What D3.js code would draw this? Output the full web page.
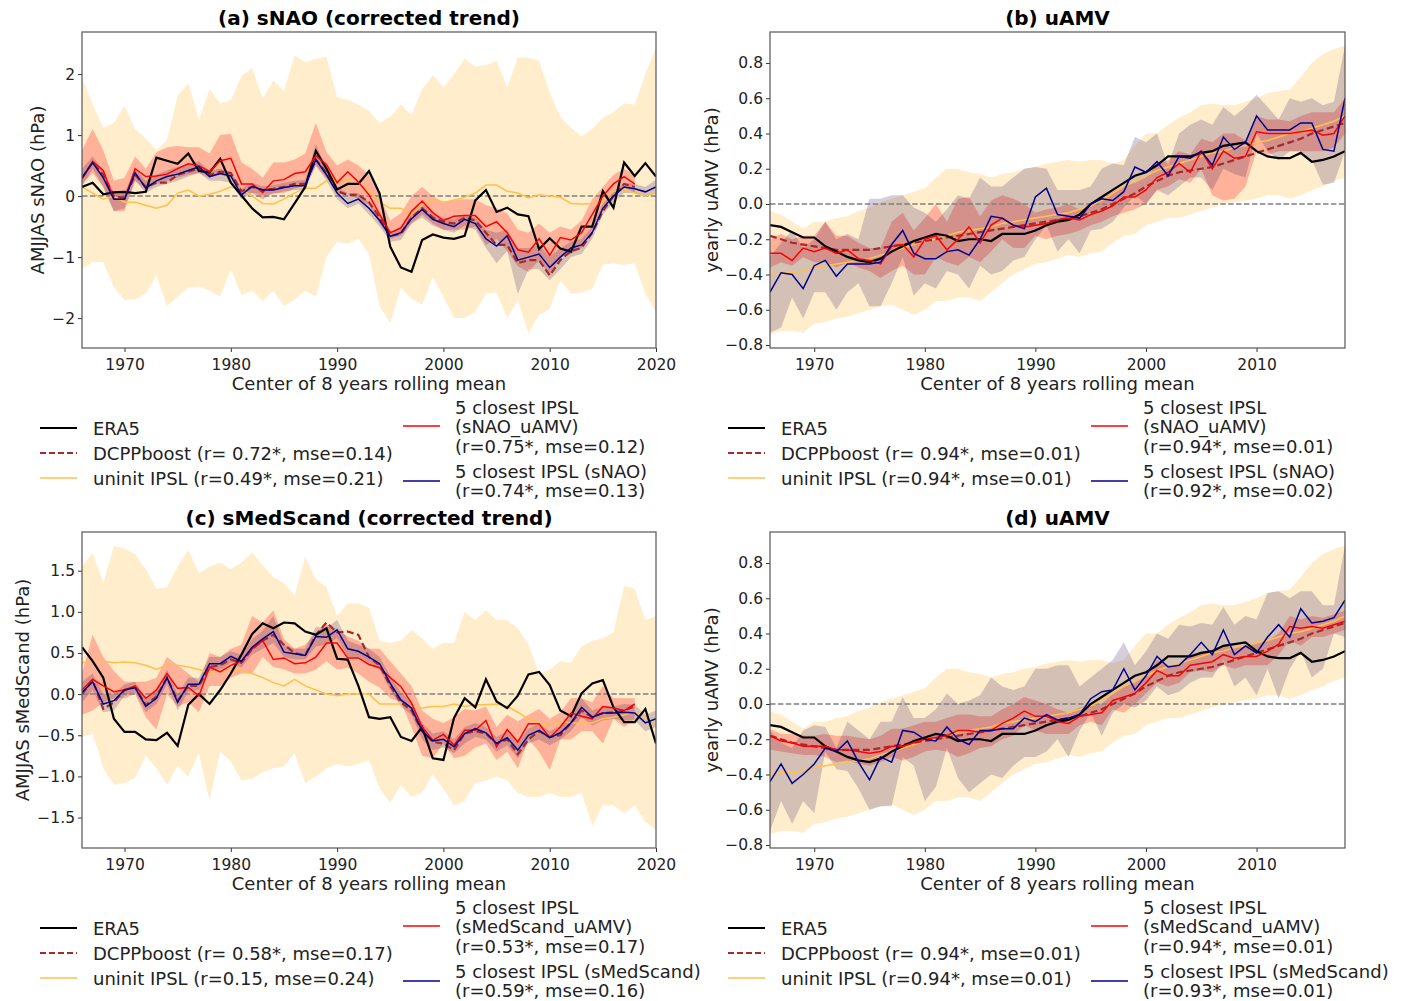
<!DOCTYPE html>
<html>
<head>
<meta charset="utf-8">
<script src="https://cdn.jsdelivr.net/npm/d3@7"></script>
<style>
  body { margin: 0; background: #fff; }
  svg { font-family: "DejaVu Sans", sans-serif; }
</style>
</head>
<body>
<svg id="chart" width="1405" height="1001"></svg>
<script>
// Years (centre of the 8-year rolling mean)
const years = d3.range(1966, 2021);

// ---------- (a) sNAO ----------
const aEra5 = [0.15,0.22,0.03,0.06,0.07,0.05,0.07,0.63,0.58,0.53,0.70,0.41,0.39,0.61,0.22,0.01,-0.20,-0.35,-0.34,-0.38,-0.12,0.15,0.74,0.45,0.11,0.20,0.20,0.41,0.04,-0.83,-1.17,-1.24,-0.72,-0.63,-0.68,-0.70,-0.65,-0.07,0.10,-0.26,-0.19,-0.30,-0.33,-0.87,-0.69,-0.86,-0.91,-0.50,-0.50,0.08,-0.19,0.55,0.33,0.54,0.32];
const aDcpp = [0.30,0.55,0.35,0.00,-0.03,0.35,0.15,0.22,0.22,0.35,0.40,0.45,0.35,0.40,0.38,0.08,0.15,0.10,0.12,0.15,0.20,0.20,0.60,0.38,0.08,0.02,0.02,-0.10,-0.35,-0.65,-0.62,-0.35,-0.20,-0.35,-0.42,-0.45,-0.35,-0.40,-0.60,-0.80,-0.80,-1.10,-1.05,-1.05,-1.30,-1.05,-0.90,-0.85,-0.60,-0.25,0.00,0.20,0.15];
const aUninit = [0.15,0.05,-0.05,0.00,-0.10,-0.10,-0.15,-0.20,-0.15,0.05,0.10,0.00,0.03,0.08,0.15,0.12,0.00,-0.12,-0.13,-0.05,0.05,0.13,0.13,0.25,0.25,0.27,0.20,0.10,-0.10,-0.20,-0.20,-0.30,-0.15,-0.05,-0.10,-0.07,-0.02,0.05,0.18,0.18,0.08,0.05,-0.03,0.02,0.00,-0.02,-0.12,-0.13,-0.12,-0.10,0.08,0.10,0.05,0.00,0.05];
const aUninitHi = [1.95,1.50,1.12,1.20,1.48,1.10,0.95,0.75,0.92,1.65,1.85,1.25,1.75,1.52,1.57,1.97,2.10,1.60,1.90,1.72,2.30,2.20,2.25,2.28,1.62,1.58,1.50,1.40,1.20,1.30,1.50,1.33,1.75,1.98,1.78,2.00,2.25,2.12,2.15,2.22,1.78,2.27,2.27,2.22,1.70,1.30,1.12,0.98,1.10,1.28,1.38,1.52,1.50,2.00,2.43];
const aUninitLo = [-1.20,-1.08,-1.08,-1.50,-1.70,-1.70,-1.60,-1.30,-1.80,-1.65,-1.50,-1.48,-1.55,-1.65,-1.20,-1.62,-1.55,-1.72,-1.55,-1.80,-1.70,-1.55,-1.65,-1.00,-0.75,-0.78,-0.70,-0.95,-1.80,-2.08,-1.50,-1.68,-1.78,-1.33,-1.65,-2.00,-2.00,-1.90,-1.60,-1.58,-2.00,-1.70,-2.25,-1.95,-1.85,-1.38,-1.60,-1.58,-1.52,-1.12,-1.10,-1.13,-1.10,-1.60,-1.90];
const aRed = [0.28,0.57,0.42,-0.05,-0.05,0.45,0.32,0.33,0.36,0.45,0.53,0.50,0.40,0.58,0.62,0.20,0.20,0.06,0.25,0.27,0.37,0.40,0.66,0.52,0.22,0.40,0.23,0.02,-0.30,-0.60,-0.52,-0.25,-0.08,-0.27,-0.40,-0.33,-0.32,-0.32,-0.50,-0.42,-0.60,-0.88,-0.92,-0.70,-0.97,-0.68,-0.72,-0.60,-0.30,0.00,0.20,0.32,0.20];
const aRedHi = [0.75,1.10,0.75,0.25,0.30,0.65,0.45,0.72,0.80,0.82,0.80,0.80,0.70,1.00,1.02,0.55,0.45,0.30,0.55,0.55,0.60,0.70,1.20,0.72,0.50,0.60,0.50,0.35,0.00,-0.40,-0.28,0.00,0.15,0.00,-0.10,-0.05,-0.05,-0.05,-0.15,-0.20,-0.28,-0.55,-0.60,-0.45,-0.60,-0.50,-0.55,-0.40,-0.05,0.15,0.35,0.45,0.35];
const aRedLo = [0.20,0.38,0.15,-0.25,-0.25,0.25,0.10,0.20,0.25,0.30,0.35,0.38,0.30,0.35,0.30,0.02,0.05,-0.05,0.05,0.05,0.12,0.18,0.50,0.30,0.05,0.05,-0.05,-0.15,-0.45,-0.70,-0.65,-0.45,-0.30,-0.45,-0.55,-0.55,-0.55,-0.50,-0.80,-0.70,-0.90,-1.15,-1.25,-1.05,-1.30,-1.00,-0.95,-0.85,-0.55,-0.20,0.00,0.15,0.05];
const aBlue = [0.30,0.55,0.30,-0.05,-0.05,0.38,0.13,0.25,0.32,0.36,0.42,0.48,0.32,0.37,0.33,0.02,0.16,0.10,0.10,0.14,0.17,0.17,0.60,0.35,0.05,-0.12,-0.05,-0.20,-0.40,-0.66,-0.60,-0.37,-0.22,-0.38,-0.45,-0.50,-0.38,-0.45,-0.70,-0.82,-0.65,-1.05,-1.00,-0.95,-1.17,-1.00,-0.85,-0.80,-0.60,-0.20,0.00,0.15,0.12,0.07,0.15];
const aBlueHi = [0.45,0.65,0.42,0.05,0.05,0.45,0.25,0.35,0.42,0.48,0.52,0.57,0.42,0.45,0.40,0.12,0.22,0.16,0.18,0.22,0.25,0.27,0.85,0.45,0.15,0.05,0.05,-0.10,-0.30,-0.60,-0.50,-0.28,-0.12,-0.28,-0.35,-0.38,-0.30,-0.35,-0.55,-0.60,-0.55,-0.85,-0.85,-0.80,-1.00,-0.85,-0.75,-0.70,-0.50,-0.12,0.08,0.22,0.20,0.15,0.27];
const aBlueLo = [0.15,0.45,0.15,-0.25,-0.20,0.25,0.05,0.15,0.20,0.25,0.32,0.38,0.25,0.25,0.22,-0.05,0.05,0.02,0.03,0.08,0.10,0.10,0.50,0.25,-0.05,-0.20,-0.12,-0.30,-0.50,-0.75,-0.72,-0.45,-0.35,-0.48,-0.55,-0.60,-0.48,-0.55,-0.85,-1.10,-0.90,-1.60,-1.20,-1.20,-1.38,-1.20,-1.00,-0.95,-0.70,-0.30,-0.10,0.05,0.05,0.00,0.05];

// ---------- (b) and (d) uAMV, shared series ----------
const uEra5 = [-0.12,-0.13,-0.16,-0.19,-0.19,-0.24,-0.27,-0.30,-0.32,-0.33,-0.31,-0.27,-0.24,-0.21,-0.19,-0.17,-0.18,-0.21,-0.20,-0.20,-0.21,-0.17,-0.17,-0.17,-0.15,-0.12,-0.10,-0.09,-0.06,0.00,0.04,0.08,0.12,0.16,0.18,0.22,0.27,0.27,0.27,0.29,0.30,0.33,0.34,0.35,0.30,0.27,0.26,0.26,0.29,0.24,0.25,0.27,0.30];
const uDcpp = [-0.18,-0.20,-0.22,-0.23,-0.24,-0.25,-0.26,-0.26,-0.26,-0.26,-0.25,-0.24,-0.23,-0.22,-0.21,-0.20,-0.19,-0.18,-0.17,-0.16,-0.15,-0.14,-0.13,-0.12,-0.11,-0.10,-0.09,-0.08,-0.07,-0.05,-0.03,0.00,0.03,0.06,0.10,0.13,0.16,0.18,0.19,0.20,0.21,0.23,0.25,0.27,0.29,0.31,0.33,0.35,0.37,0.40,0.42,0.44,0.46];
const uUninit = [-0.40,-0.39,-0.39,-0.38,-0.36,-0.35,-0.34,-0.33,-0.32,-0.31,-0.29,-0.27,-0.25,-0.23,-0.21,-0.20,-0.18,-0.16,-0.15,-0.14,-0.13,-0.11,-0.10,-0.09,-0.08,-0.07,-0.06,-0.05,-0.03,-0.01,0.02,0.06,0.10,0.13,0.16,0.19,0.21,0.23,0.25,0.27,0.29,0.30,0.32,0.33,0.35,0.36,0.38,0.40,0.41,0.43,0.45,0.47,0.50];
const uUninitHi = [-0.04,-0.06,-0.10,-0.14,-0.10,-0.10,-0.08,-0.07,-0.04,-0.02,0.01,0.03,0.05,0.07,0.09,0.15,0.20,0.20,0.18,0.17,0.15,0.17,0.18,0.20,0.21,0.23,0.24,0.25,0.24,0.25,0.25,0.23,0.25,0.33,0.40,0.40,0.45,0.49,0.52,0.56,0.57,0.56,0.56,0.58,0.60,0.63,0.64,0.65,0.72,0.80,0.85,0.88,0.90];
const uUninitLo = [-0.74,-0.72,-0.72,-0.73,-0.68,-0.67,-0.65,-0.64,-0.62,-0.60,-0.58,-0.57,-0.60,-0.63,-0.60,-0.55,-0.55,-0.53,-0.53,-0.55,-0.50,-0.45,-0.40,-0.37,-0.34,-0.33,-0.31,-0.29,-0.30,-0.28,-0.27,-0.22,-0.18,-0.17,-0.12,-0.10,-0.08,-0.08,-0.06,-0.04,-0.02,0.00,0.01,0.02,0.03,0.05,0.05,0.03,0.05,0.08,0.10,0.13,0.15];

// (b) closest members
const bRed = [-0.28,-0.28,-0.32,-0.25,-0.27,-0.25,-0.28,-0.26,-0.31,-0.32,-0.34,-0.24,-0.23,-0.30,-0.20,-0.18,-0.26,-0.20,-0.13,-0.22,-0.12,-0.08,-0.12,-0.13,-0.12,-0.11,-0.09,-0.08,-0.09,-0.06,-0.04,-0.01,0.04,0.04,0.08,0.15,0.18,0.23,0.18,0.30,0.20,0.30,0.26,0.27,0.41,0.40,0.40,0.40,0.41,0.42,0.39,0.40,0.50];
const bRedHi = [-0.20,-0.17,-0.20,-0.18,-0.18,-0.10,-0.18,-0.18,-0.22,-0.25,-0.25,-0.10,-0.05,-0.15,-0.08,0.00,-0.10,0.03,0.04,-0.07,0.02,0.05,0.03,0.00,-0.05,-0.03,-0.02,0.00,-0.03,0.00,0.03,0.07,0.10,0.12,0.15,0.22,0.25,0.30,0.28,0.37,0.35,0.40,0.40,0.36,0.50,0.48,0.48,0.47,0.50,0.52,0.52,0.52,0.60];
const bRedLo = [-0.36,-0.33,-0.35,-0.30,-0.33,-0.33,-0.36,-0.33,-0.36,-0.38,-0.42,-0.38,-0.35,-0.40,-0.40,-0.30,-0.33,-0.35,-0.30,-0.33,-0.27,-0.20,-0.25,-0.25,-0.18,-0.20,-0.18,-0.17,-0.15,-0.12,-0.10,-0.07,-0.05,-0.03,0.00,0.08,0.10,0.14,0.12,0.20,0.05,0.02,0.03,0.10,0.30,0.28,0.30,0.30,0.30,0.30,0.30,0.32,0.40];
const bBlue = [-0.50,-0.39,-0.40,-0.48,-0.35,-0.32,-0.41,-0.34,-0.34,-0.34,-0.33,-0.23,-0.15,-0.28,-0.31,-0.31,-0.27,-0.26,-0.29,-0.20,-0.07,-0.08,-0.12,-0.14,0.04,0.09,-0.06,-0.07,-0.08,0.00,0.03,0.02,0.07,0.21,0.18,0.24,0.16,0.27,0.26,0.30,0.22,0.38,0.31,0.35,0.50,0.42,0.42,0.42,0.46,0.46,0.31,0.30,0.60];
const bBlueHi = [-0.30,-0.22,-0.15,-0.25,-0.20,-0.10,-0.20,-0.17,-0.20,0.03,0.03,0.05,0.05,-0.02,-0.05,-0.10,-0.03,0.05,0.03,0.15,0.10,0.10,0.15,0.20,0.21,0.20,0.08,0.08,0.08,0.10,0.20,0.23,0.22,0.38,0.35,0.40,0.22,0.40,0.45,0.48,0.45,0.55,0.50,0.55,0.62,0.55,0.48,0.60,0.58,0.60,0.56,0.58,0.90];
const bBlueLo = [-0.73,-0.70,-0.53,-0.65,-0.50,-0.50,-0.60,-0.50,-0.45,-0.58,-0.58,-0.45,-0.30,-0.52,-0.45,-0.48,-0.38,-0.40,-0.48,-0.35,-0.40,-0.38,-0.32,-0.30,-0.20,-0.12,-0.27,-0.20,-0.28,-0.15,-0.14,-0.10,-0.02,0.05,0.00,0.08,0.05,0.10,0.15,0.15,0.08,0.20,0.17,0.15,0.40,0.30,0.25,0.30,0.30,0.25,0.11,0.12,0.30];

// ---------- (c) sMedScand ----------
const cEra5 = [0.57,0.40,0.20,-0.30,-0.46,-0.46,-0.55,-0.56,-0.47,-0.63,-0.13,0.00,-0.12,0.05,0.25,0.48,0.73,0.86,0.80,0.87,0.86,0.76,0.72,0.80,0.43,0.42,0.10,-0.28,-0.30,-0.28,-0.52,-0.57,-0.40,-0.78,-0.80,-0.29,-0.05,-0.16,0.18,-0.09,-0.17,-0.02,0.24,0.27,0.11,-0.20,-0.27,0.01,0.13,0.17,-0.16,-0.34,-0.34,-0.18,-0.60];
const cDcpp = [0.00,0.17,-0.18,-0.10,0.05,0.08,-0.13,-0.03,0.20,-0.08,0.10,0.10,0.33,0.35,0.42,0.38,0.55,0.65,0.72,0.60,0.50,0.47,0.72,0.87,0.75,0.76,0.72,0.45,0.35,0.10,-0.10,-0.20,-0.45,-0.58,-0.60,-0.68,-0.48,-0.45,-0.48,-0.60,-0.55,-0.73,-0.55,-0.45,-0.52,-0.50,-0.35,-0.20,-0.28,-0.23,-0.22,-0.20,-0.15];
const cUninit = [0.38,0.40,0.40,0.38,0.39,0.38,0.35,0.30,0.35,0.35,0.33,0.30,0.25,0.30,0.30,0.28,0.25,0.20,0.14,0.10,0.18,0.10,0.05,0.00,-0.02,0.00,0.00,0.00,-0.12,-0.12,-0.12,-0.15,-0.17,-0.15,-0.15,-0.12,-0.15,-0.13,-0.13,-0.12,-0.15,-0.22,-0.30,-0.35,-0.38,-0.33,-0.35,-0.35,-0.35,-0.30,-0.28,-0.25,-0.22,-0.30,-0.35];
const cUninitHi = [1.55,1.72,1.35,1.80,1.77,1.70,1.52,1.28,1.30,1.55,1.75,1.47,1.55,1.60,1.52,1.60,1.72,1.57,1.42,1.35,1.20,1.67,1.40,1.30,0.95,1.10,1.10,1.05,0.65,0.62,0.65,0.78,0.68,0.55,0.62,0.62,1.00,0.90,1.02,0.90,0.90,0.80,0.60,0.25,0.30,0.40,0.38,0.58,0.65,0.68,0.75,1.32,1.28,0.90,0.95];
const cUninitLo = [-0.52,-0.48,-0.90,-1.10,-1.08,-1.02,-0.75,-0.90,-1.10,-0.87,-1.00,-0.72,-1.30,-0.70,-0.82,-1.05,-1.03,-0.95,-0.90,-0.88,-0.72,-1.08,-1.00,-0.90,-0.85,-0.88,-0.85,-0.80,-1.15,-1.32,-1.10,-1.25,-1.20,-0.98,-1.15,-1.35,-1.30,-1.08,-1.05,-1.00,-1.05,-1.20,-1.25,-1.25,-1.20,-1.25,-1.25,-1.20,-1.60,-1.35,-1.35,-1.45,-1.35,-1.55,-1.65];
const cRed = [0.05,0.18,0.10,0.03,0.05,0.10,-0.05,0.05,0.25,0.07,0.08,-0.02,0.33,0.27,0.35,0.40,0.55,0.65,0.42,0.44,0.37,0.38,0.45,0.62,0.62,0.44,0.44,0.36,0.32,0.20,0.09,-0.11,-0.40,-0.56,-0.49,-0.62,-0.44,-0.44,-0.32,-0.64,-0.43,-0.58,-0.36,-0.36,-0.53,-0.40,-0.23,-0.27,-0.30,-0.15,-0.17,-0.20,-0.12];
const cRedHi = [0.25,0.72,0.45,0.28,0.15,0.15,0.15,0.20,0.45,0.35,0.25,0.15,0.50,0.45,0.55,0.60,0.95,0.87,1.02,0.67,0.55,0.60,0.75,0.85,0.78,0.70,0.65,0.55,0.55,0.40,0.25,0.10,-0.20,-0.30,-0.35,-0.28,-0.18,-0.20,-0.15,-0.40,-0.25,-0.33,-0.25,-0.18,-0.30,-0.22,-0.05,-0.05,-0.10,0.10,-0.05,-0.05,-0.05];
const cRedLo = [-0.25,-0.20,-0.10,-0.05,-0.05,0.00,-0.28,-0.43,0.00,-0.15,-0.10,-0.22,0.10,0.10,0.20,0.25,0.25,0.45,0.33,0.30,0.25,0.25,0.30,0.40,0.30,0.32,0.25,0.15,0.08,-0.05,-0.10,-0.40,-0.75,-0.78,-0.60,-0.78,-0.75,-0.65,-0.60,-0.80,-0.70,-0.90,-0.55,-0.70,-0.92,-0.55,-0.55,-0.45,-0.45,-0.60,-0.30,-0.40,-0.30];
const cBlue = [0.02,0.15,-0.12,-0.08,0.05,0.08,-0.15,-0.05,0.20,-0.10,0.12,0.12,0.37,0.37,0.46,0.40,0.57,0.67,0.76,0.51,0.49,0.47,0.70,0.69,0.78,0.55,0.52,0.45,0.37,0.13,-0.07,-0.17,-0.45,-0.57,-0.55,-0.64,-0.48,-0.42,-0.47,-0.60,-0.53,-0.68,-0.50,-0.44,-0.53,-0.47,-0.35,-0.16,-0.28,-0.23,-0.23,-0.22,-0.23,-0.35,-0.30];
const cBlueHi = [0.15,0.25,0.00,0.00,0.12,0.15,-0.05,0.05,0.30,0.00,0.20,0.20,0.45,0.45,0.52,0.48,0.67,0.77,0.95,0.60,0.55,0.55,0.82,0.80,0.90,0.65,0.60,0.55,0.45,0.22,0.02,-0.10,-0.35,-0.48,-0.45,-0.55,-0.40,-0.35,-0.40,-0.52,-0.45,-0.58,-0.42,-0.36,-0.45,-0.38,-0.25,-0.05,-0.20,-0.15,-0.15,-0.12,-0.13,-0.25,-0.20];
const cBlueLo = [-0.10,0.05,-0.22,-0.20,-0.02,0.02,-0.22,-0.12,0.12,-0.20,0.03,0.05,0.28,0.28,0.38,0.32,0.48,0.55,0.62,0.45,0.42,0.42,0.58,0.60,0.68,0.45,0.45,0.38,0.30,0.05,-0.15,-0.25,-0.55,-0.68,-0.65,-0.72,-0.60,-0.52,-0.55,-0.70,-0.62,-0.78,-0.60,-0.55,-0.62,-0.55,-0.45,-0.28,-0.38,-0.32,-0.30,-0.32,-0.32,-0.45,-0.40];

// (d) closest members
const dRed = [-0.18,-0.21,-0.22,-0.24,-0.24,-0.24,-0.26,-0.26,-0.27,-0.28,-0.27,-0.24,-0.24,-0.22,-0.20,-0.19,-0.18,-0.15,-0.15,-0.16,-0.15,-0.11,-0.08,-0.04,-0.07,-0.07,-0.10,-0.11,-0.07,-0.06,-0.05,0.02,0.04,0.06,0.12,0.19,0.16,0.16,0.22,0.23,0.24,0.28,0.26,0.27,0.27,0.30,0.34,0.44,0.43,0.44,0.43,0.45,0.47];
const dRedHi = [-0.14,-0.17,-0.17,-0.18,-0.18,-0.17,-0.18,-0.18,-0.19,-0.20,-0.18,-0.14,-0.14,-0.12,-0.10,-0.10,-0.08,-0.06,-0.06,-0.07,-0.07,-0.03,0.00,0.04,0.02,0.00,-0.03,-0.05,-0.02,-0.01,0.00,0.06,0.10,0.12,0.16,0.25,0.22,0.22,0.28,0.30,0.30,0.33,0.32,0.33,0.34,0.36,0.40,0.50,0.48,0.50,0.49,0.51,0.53];
const dRedLo = [-0.26,-0.27,-0.28,-0.29,-0.29,-0.30,-0.33,-0.32,-0.34,-0.35,-0.33,-0.30,-0.32,-0.30,-0.27,-0.26,-0.27,-0.30,-0.28,-0.25,-0.24,-0.20,-0.18,-0.12,-0.15,-0.17,-0.17,-0.17,-0.12,-0.10,-0.12,-0.03,-0.05,0.00,0.06,0.12,0.10,0.12,0.18,0.19,0.18,0.22,0.20,0.22,0.22,0.22,0.28,0.36,0.33,0.38,0.38,0.40,0.42];
const dBlue = [-0.44,-0.34,-0.45,-0.40,-0.34,-0.25,-0.27,-0.21,-0.33,-0.43,-0.30,-0.33,-0.15,-0.16,-0.20,-0.21,-0.13,-0.20,-0.23,-0.15,-0.15,-0.14,-0.14,-0.08,-0.10,-0.06,-0.09,-0.08,-0.06,0.03,0.07,0.08,0.20,0.08,0.16,0.27,0.21,0.22,0.28,0.35,0.28,0.42,0.28,0.33,0.29,0.38,0.45,0.38,0.54,0.46,0.47,0.49,0.59];
const dBlueHi = [-0.15,-0.22,-0.25,-0.15,-0.12,-0.13,-0.25,-0.10,-0.15,-0.20,-0.10,-0.10,0.04,-0.08,-0.08,-0.03,0.06,0.00,0.02,0.05,0.15,0.10,0.08,0.10,0.20,0.20,0.22,0.22,0.10,0.15,0.20,0.25,0.35,0.22,0.30,0.40,0.37,0.45,0.44,0.46,0.45,0.55,0.45,0.50,0.48,0.63,0.64,0.60,0.64,0.64,0.56,0.56,0.90];
const dBlueLo = [-0.72,-0.55,-0.68,-0.55,-0.62,-0.27,-0.37,-0.38,-0.48,-0.60,-0.58,-0.58,-0.30,-0.35,-0.55,-0.47,-0.25,-0.42,-0.50,-0.45,-0.40,-0.42,-0.35,-0.30,-0.30,-0.27,-0.20,-0.30,-0.15,-0.05,-0.18,-0.05,0.00,-0.02,0.02,0.10,0.05,0.07,0.12,0.15,0.15,0.25,0.10,0.15,0.05,0.20,0.03,0.20,0.30,0.15,0.20,0.40,0.38];

// Legend labels
const legendA = ['ERA5', 'DCPPboost (r= 0.72*, mse=0.14)', 'uninit IPSL (r=0.49*, mse=0.21)', ['5 closest IPSL', '(sNAO_uAMV)', '(r=0.75*, mse=0.12)'], ['5 closest IPSL (sNAO)', '(r=0.74*, mse=0.13)']];
const legendB = ['ERA5', 'DCPPboost (r= 0.94*, mse=0.01)', 'uninit IPSL (r=0.94*, mse=0.01)', ['5 closest IPSL', '(sNAO_uAMV)', '(r=0.94*, mse=0.01)'], ['5 closest IPSL (sNAO)', '(r=0.92*, mse=0.02)']];
const legendC = ['ERA5', 'DCPPboost (r= 0.58*, mse=0.17)', 'uninit IPSL (r=0.15, mse=0.24)', ['5 closest IPSL', '(sMedScand_uAMV)', '(r=0.53*, mse=0.17)'], ['5 closest IPSL (sMedScand)', '(r=0.59*, mse=0.16)']];
const legendD = ['ERA5', 'DCPPboost (r= 0.94*, mse=0.01)', 'uninit IPSL (r=0.94*, mse=0.01)', ['5 closest IPSL', '(sMedScand_uAMV)', '(r=0.94*, mse=0.01)'], ['5 closest IPSL (sMedScand)', '(r=0.93*, mse=0.01)']];

const COLORS = {
    band: '#FFA500',
    uninit: '#FFC04C',
    red: '#FF0000',
    blue: '#00008B',
    dcpp: '#A52A2A',
    era5: '#000000',
    zero: '#808080'
};

const svg = d3.select('#chart');
const minus = s => s.replace('-', '\u2212');

const drawPanel = (p) => {
    const { id, left, top, width, height, xMax, yDomain, yTicks, yFmt, title, ylabel, ylabelOffset, legend } = p;

    const x = d3.scaleLinear().domain([1966, xMax]).range([left, left + width]);
    const y = d3.scaleLinear().domain(yDomain).range([top + height, top]);

    // clip to the axes box
    svg.append('defs').append('clipPath')
        .attr('id', `clip-${id}`)
        .append('rect')
        .attr('x', left).attr('y', top)
        .attr('width', width).attr('height', height);

    const g = svg.append('g').attr('clip-path', `url(#clip-${id})`);

    const toPts = arr => arr.map((v, i) => ({ year: years[i], v }));
    const toBand = (lo, hi) => lo.map((v, i) => ({ year: years[i], lo: v, hi: hi[i] }));

    const area = d3.area().x(d => x(d.year)).y0(d => y(d.lo)).y1(d => y(d.hi));
    const line = d3.line().x(d => x(d.year)).y(d => y(d.v));

    // bands
    g.append('path').attr('d', area(toBand(p.uninitLo, p.uninitHi)))
        .attr('fill', COLORS.band).attr('fill-opacity', 0.2);
    g.append('path').attr('d', area(toBand(p.redLo, p.redHi)))
        .attr('fill', COLORS.red).attr('fill-opacity', 0.25);
    g.append('path').attr('d', area(toBand(p.blueLo, p.blueHi)))
        .attr('fill', '#3A1F5E').attr('fill-opacity', 0.22);

    // zero line
    g.append('line')
        .attr('x1', left).attr('x2', left + width)
        .attr('y1', y(0)).attr('y2', y(0))
        .attr('stroke', COLORS.zero).attr('stroke-width', 1.5)
        .attr('stroke-dasharray', '5.5,2.4');

    // lines
    g.append('path').attr('d', line(toPts(p.uninit)))
        .attr('fill', 'none').attr('stroke', COLORS.uninit).attr('stroke-width', 1.5);
    g.append('path').attr('d', line(toPts(p.dcpp)))
        .attr('fill', 'none').attr('stroke', COLORS.dcpp).attr('stroke-width', 2.2)
        .attr('stroke-dasharray', '7,3.5');
    g.append('path').attr('d', line(toPts(p.era5)))
        .attr('fill', 'none').attr('stroke', COLORS.era5).attr('stroke-width', 2.2);
    g.append('path').attr('d', line(toPts(p.red)))
        .attr('fill', 'none').attr('stroke', COLORS.red).attr('stroke-width', 1.5);
    g.append('path').attr('d', line(toPts(p.blue)))
        .attr('fill', 'none').attr('stroke', COLORS.blue).attr('stroke-width', 1.5);

    // axes
    const xAxis = svg.append('g')
        .attr('transform', `translate(0,${top + height})`)
        .call(d3.axisBottom(x).tickValues(d3.range(1970, xMax + 1, 10)).tickFormat(d3.format('d')).tickSize(4).tickSizeOuter(0));
    const yAxis = svg.append('g')
        .attr('transform', `translate(${left},0)`)
        .call(d3.axisLeft(y).tickValues(yTicks).tickFormat(d => minus(d3.format(yFmt)(d))).tickSize(4).tickSizeOuter(0));
    [xAxis, yAxis].forEach(a => {
        a.select('.domain').remove();
        a.selectAll('text').attr('font-size', 15.5).attr('fill', '#222').attr('font-family', 'DejaVu Sans');
        a.selectAll('line').attr('stroke', '#333');
    });
    xAxis.selectAll('text').attr('dy', '0.95em');

    // frame
    svg.append('rect')
        .attr('x', left).attr('y', top).attr('width', width).attr('height', height)
        .attr('fill', 'none').attr('stroke', '#555').attr('stroke-width', 1.2);

    // title
    svg.append('text')
        .attr('x', left + width / 2).attr('y', top - 7)
        .attr('text-anchor', 'middle')
        .attr('font-size', 20).attr('font-weight', 'bold')
        .text(title);

    // x label
    svg.append('text')
        .attr('x', left + width / 2).attr('y', top + height + 42)
        .attr('text-anchor', 'middle')
        .attr('font-size', 18)
        .attr('fill', '#222')
        .text('Center of 8 years rolling mean');

    // y label
    svg.append('text')
        .attr('transform', `translate(${left - ylabelOffset},${top + height / 2}) rotate(-90)`)
        .attr('text-anchor', 'middle')
        .attr('dy', '0.35em')
        .attr('font-size', 18)
        .attr('fill', '#222')
        .text(ylabel);

    // legend
    const lg = svg.append('g').attr('font-size', 18).attr('fill', '#222');
    const bottom = top + height;
    const sample = (x0, yc, color, dash, w) => {
        lg.append('line')
            .attr('x1', x0).attr('x2', x0 + 37).attr('y1', yc).attr('y2', yc)
            .attr('stroke', color).attr('stroke-width', w)
            .attr('stroke-dasharray', dash);
    };
    const label = (x0, yc, txt) => {
        lg.append('text').attr('x', x0).attr('y', yc + 6.5).text(txt);
    };
    const c1 = left - 42, c2 = left + 321;
    sample(c1, bottom + 80, COLORS.era5, null, 2.2);
    label(c1 + 53, bottom + 80, legend[0]);
    sample(c1, bottom + 105, COLORS.dcpp, '6,3', 2.2);
    label(c1 + 53, bottom + 105, legend[1]);
    sample(c1, bottom + 130, COLORS.uninit, null, 1.5);
    label(c1 + 53, bottom + 130, legend[2]);

    sample(c2, bottom + 78, COLORS.red, null, 1.5);
    legend[3].forEach((t, i) => label(c2 + 52, bottom + 59 + i * 19.5, t));
    sample(c2, bottom + 133, COLORS.blue, null, 1.5);
    legend[4].forEach((t, i) => label(c2 + 52, bottom + 123 + i * 19.5, t));
};

drawPanel({
    id: 'a', left: 82, top: 32, width: 574, height: 316, xMax: 2020,
    yDomain: [-2.49, 2.69], yTicks: [-2, -1, 0, 1, 2], yFmt: 'd',
    title: '(a) sNAO (corrected trend)', ylabel: 'AMJJAS sNAO (hPa)', ylabelOffset: 44, legend: legendA,
    era5: aEra5, dcpp: aDcpp, uninit: aUninit, uninitHi: aUninitHi, uninitLo: aUninitLo,
    red: aRed, redHi: aRedHi, redLo: aRedLo, blue: aBlue, blueHi: aBlueHi, blueLo: aBlueLo
});

drawPanel({
    id: 'b', left: 770, top: 32, width: 575, height: 316, xMax: 2018,
    yDomain: [-0.817, 0.976], yTicks: [-0.8, -0.6, -0.4, -0.2, 0, 0.2, 0.4, 0.6, 0.8], yFmt: '.1f',
    title: '(b) uAMV', ylabel: 'yearly uAMV (hPa)', ylabelOffset: 58, legend: legendB,
    era5: uEra5, dcpp: uDcpp, uninit: uUninit, uninitHi: uUninitHi, uninitLo: uUninitLo,
    red: bRed, redHi: bRedHi, redLo: bRedLo, blue: bBlue, blueHi: bBlueHi, blueLo: bBlueLo
});

drawPanel({
    id: 'c', left: 82, top: 532, width: 574, height: 316, xMax: 2020,
    yDomain: [-1.87, 1.97], yTicks: [-1.5, -1, -0.5, 0, 0.5, 1, 1.5], yFmt: '.1f',
    title: '(c) sMedScand (corrected trend)', ylabel: 'AMJJAS sMedScand (hPa)', ylabelOffset: 59, legend: legendC,
    era5: cEra5, dcpp: cDcpp, uninit: cUninit, uninitHi: cUninitHi, uninitLo: cUninitLo,
    red: cRed, redHi: cRedHi, redLo: cRedLo, blue: cBlue, blueHi: cBlueHi, blueLo: cBlueLo
});

drawPanel({
    id: 'd', left: 770, top: 532, width: 575, height: 316, xMax: 2018,
    yDomain: [-0.817, 0.976], yTicks: [-0.8, -0.6, -0.4, -0.2, 0, 0.2, 0.4, 0.6, 0.8], yFmt: '.1f',
    title: '(d) uAMV', ylabel: 'yearly uAMV (hPa)', ylabelOffset: 58, legend: legendD,
    era5: uEra5, dcpp: uDcpp, uninit: uUninit, uninitHi: uUninitHi, uninitLo: uUninitLo,
    red: dRed, redHi: dRedHi, redLo: dRedLo, blue: dBlue, blueHi: dBlueHi, blueLo: dBlueLo
});
</script>
</body>
</html>
